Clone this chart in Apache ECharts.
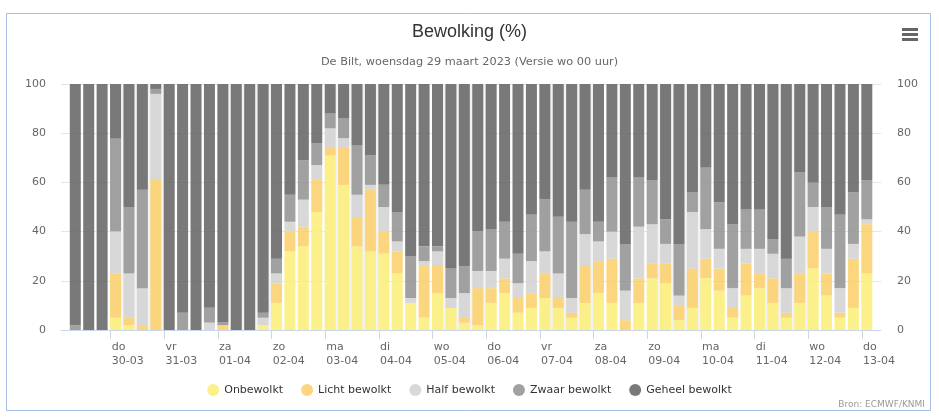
<!DOCTYPE html>
<html>
  <head>
    <meta charset="utf-8" />
    <script src="https://cdn.jsdelivr.net/npm/echarts@6/dist/echarts.min.js"></script>
    <style>
      html, body, #main {
        width: 100%;
        height: 100%;
        margin: 0;
        overflow: hidden;
        background: #fff;
      }
    </style>
  </head>
  <body>
    <div id="main"></div>
    <script type="text/javascript">
      // 6-uurlijkse staven, vanaf wo 29-03 06 uur
      var dayNames = ['do', 'vr', 'za', 'zo', 'ma', 'di', 'wo', 'do', 'vr', 'za', 'zo', 'ma', 'di', 'wo', 'do'];
      var dayDates = ['30-03', '31-03', '01-04', '02-04', '03-04', '04-04', '05-04', '06-04',
                      '07-04', '08-04', '09-04', '10-04', '11-04', '12-04', '13-04'];
      var yTicks = [0, 20, 40, 60, 80, 100];

      var onbewolkt = [0, 0, 0, 5, 2, 0, 0, 0, 0, 0, 0, 0, 0, 0, 2, 11, 32, 34, 48, 71,
                       59, 34, 32, 31, 23, 11, 5, 15, 9, 3, 2, 11, 15, 7, 9, 13, 9, 5, 11, 15,
                       11, 0, 11, 21, 19, 4, 9, 21, 16, 5, 14, 17, 11, 5, 11, 25, 14, 5, 9, 23];
      var lichtBewolkt = [0, 0, 0, 18, 3, 2, 61, 0, 0, 0, 0, 2, 0, 0, 0, 8, 8, 8, 13, 3,
                          15, 12, 25, 9, 9, 0, 21, 11, 0, 2, 15, 6, 6, 6, 6, 10, 4, 2, 15, 13,
                          18, 4, 10, 6, 8, 6, 16, 8, 9, 4, 13, 6, 10, 2, 12, 15, 9, 2, 20, 20];
      var halfBewolkt = [0, 0, 0, 17, 18, 15, 35, 0, 0, 0, 3, 0, 0, 0, 3, 4, 4, 11, 6, 8,
                         4, 9, 2, 10, 4, 2, 2, 6, 4, 10, 7, 7, 8, 6, 13, 9, 10, 6, 13, 8,
                         11, 12, 21, 16, 8, 4, 23, 12, 8, 8, 6, 10, 10, 10, 15, 10, 10, 10, 6, 2];
      var zwaarBewolkt = [2, 0, 0, 38, 27, 40, 2, 0, 7, 0, 6, 1, 0, 0, 2, 6, 11, 16, 9, 6,
                          8, 20, 12, 9, 12, 17, 6, 2, 12, 11, 16, 17, 15, 12, 19, 21, 23, 31, 18, 8,
                          22, 19, 20, 18, 10, 21, 8, 25, 19, 26, 16, 16, 6, 12, 26, 10, 17, 30, 21, 16];
      var geheelBewolkt = [98, 100, 100, 22, 50, 43, 2, 100, 93, 100, 91, 97, 100, 100, 93, 71, 45, 31, 24, 12,
                           14, 25, 29, 41, 52, 70, 66, 66, 75, 74, 60, 59, 56, 69, 53, 47, 54, 56, 43, 56,
                           38, 65, 38, 39, 55, 65, 44, 34, 48, 57, 51, 51, 63, 71, 36, 40, 50, 53, 44, 39];

      var seriesNames = ['Onbewolkt', 'Licht bewolkt', 'Half bewolkt', 'Zwaar bewolkt', 'Geheel bewolkt'];
      var seriesData = [onbewolkt, lichtBewolkt, halfBewolkt, zwaarBewolkt, geheelBewolkt];
      var colors = ['#fced75', '#fbcf68', '#d1d1d1', '#909090', '#626262'];

      var fontFamily = 'DejaVu Sans';
      var barOffset = 2.15; // staaf begint net na het tijdstip (uren)
      // uren na wo 29-03 00 uur
      var dayTicks = dayDates.map(function (d, k) { return 24 * (k + 1); });

      var myChart = echarts.init(document.getElementById('main'), null, { renderer: 'canvas' });

      var series = seriesNames.map(function (name, s) {
        return {
          name: name,
          type: 'bar',
          stack: 'bewolking',
          barWidth: 11,
          itemStyle: { color: colors[s], opacity: 0.85 },
          emphasis: { disabled: true },
          // waarde eerst, zodat gestapeld wordt op de y-dimensie
          encode: { x: 1, y: 0 },
          data: seriesData[s].map(function (v, i) { return [v, (i + 1) * 6 + barOffset]; })
        };
      });

      // afwisselende dag-banden op de achtergrond
      var bands = [];
      for (var k = 0; k < dayTicks.length - 1; k += 2) {
        bands.push([{ xAxis: dayTicks[k] }, { xAxis: dayTicks[k + 1] }]);
      }
      series.push({
        name: 'banden',
        type: 'line',
        data: [],
        z: 0,
        silent: true,
        markArea: {
          silent: true,
          itemStyle: { color: '#f3f3f3' },
          data: bands
        }
      });

      var option = {
        animation: false,
        color: colors,
        title: {
          text: 'Bewolking (%)',
          subtext: 'De Bilt, woensdag 29 maart 2023 (Versie wo 00 uur)',
          left: 'center',
          top: 18,
          itemGap: 16,
          textStyle: { fontFamily: 'Liberation Sans', fontSize: 18, fontWeight: 'normal', color: '#333' },
          subtextStyle: { fontFamily: fontFamily, fontSize: 11.3, color: '#666' }
        },
        legend: {
          data: seriesNames,
          left: 'center',
          top: 379,
          icon: 'circle',
          itemWidth: 12,
          itemHeight: 12,
          itemGap: 18,
          textStyle: { fontFamily: fontFamily, fontSize: 11, color: '#333' }
        },
        grid: { left: 61, right: 58, top: 84, bottom: 88 },
        xAxis: {
          type: 'value',
          min: 1.76,
          max: 368.5,
          axisLine: { show: true, lineStyle: { color: '#ccd6eb' } },
          axisTick: { show: true, length: 9, customValues: dayTicks, lineStyle: { color: '#ccd6eb' } },
          splitLine: { show: false },
          axisLabel: {
            customValues: dayTicks,
            align: 'left',
            margin: 10,
            lineHeight: 14,
            fontFamily: fontFamily,
            fontSize: 11,
            color: '#666',
            padding: [0, 0, 0, 1],
            formatter: function (v) {
              var k = Math.round(v / 24) - 1;
              return dayNames[k] + '\n' + dayDates[k];
            }
          }
        },
        yAxis: [
          {
            type: 'value',
            min: 0,
            max: 100,
            interval: 20,
            axisLabel: { margin: 15, fontFamily: fontFamily, fontSize: 11, color: '#666' },
            splitLine: { lineStyle: { color: '#e6e6e6' } },
            axisLine: { show: false },
            axisTick: { show: false }
          },
          {
            type: 'value',
            min: 0,
            max: 100,
            interval: 20,
            position: 'right',
            axisLabel: { margin: 16, fontFamily: fontFamily, fontSize: 11, color: '#666' },
            splitLine: { show: false },
            axisLine: { show: false },
            axisTick: { show: false }
          }
        ],
        graphic: [
          {
            type: 'rect',
            shape: { x: 6.5, y: 13.5, width: 924, height: 397 },
            style: { fill: 'none', stroke: '#a7bfe6', lineWidth: 1 },
            silent: true
          },
          { type: 'rect', shape: { x: 902, y: 28, width: 16, height: 3 }, style: { fill: '#666' } },
          { type: 'rect', shape: { x: 902, y: 33, width: 16, height: 3 }, style: { fill: '#666' } },
          { type: 'rect', shape: { x: 902, y: 38, width: 16, height: 3 }, style: { fill: '#666' } },
          {
            type: 'text',
            right: 14,
            top: 400,
            style: { text: 'Bron: ECMWF/KNMI', fontFamily: fontFamily, fontSize: 9, fill: '#999' }
          }
        ],
        series: series
      };

      myChart.setOption(option);
    </script>
  </body>
</html>
